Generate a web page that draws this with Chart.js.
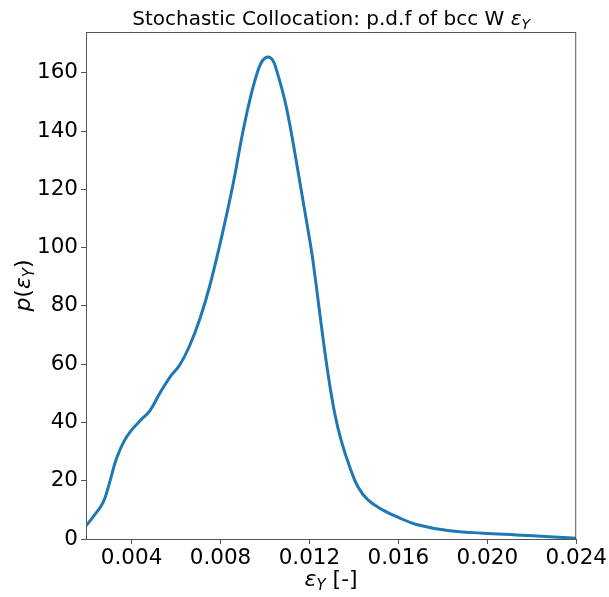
<!DOCTYPE html>
<html>
<head>
<meta charset="utf-8">
<script src="https://cdn.jsdelivr.net/npm/chart.js@4/dist/chart.umd.min.js"></script>
<style>
  html, body { margin: 0; padding: 0; background: #ffffff; }
  #wrap { width: 609px; height: 597px; }
</style>
</head>
<body>
<div id="wrap"><canvas id="c" width="609" height="597"></canvas></div>
<script>
// Yield strain samples (x) and estimated probability density (y)
const strainValues = [
  0.00195, 0.00227, 0.00272, 0.00302, 0.00333, 0.00378, 0.00437, 0.00482,
  0.00527, 0.00572, 0.00617, 0.00662, 0.00707, 0.00752, 0.00812, 0.00857,
  0.00902, 0.00939, 0.00969, 0.00990, 0.01014, 0.01035, 0.01052, 0.01089,
  0.01119, 0.01149, 0.01179, 0.01209, 0.01228, 0.01254, 0.01284, 0.01314,
  0.01344, 0.01381, 0.01418, 0.01463, 0.01531, 0.01600, 0.01681, 0.01831,
  0.01980, 0.02130, 0.02280, 0.02400
];
const densityValues = [
  4.5, 7.6, 12.6, 19.6, 27.8, 35.1, 40.5, 44.0,
  50.0, 55.5, 59.8, 66.5, 75.5, 87.0, 106.0, 122.0,
  140.3, 152.9, 160.9, 164.3, 165.4, 164.3, 160.9, 150.6,
  139.2, 126.0, 112.6, 99.0, 88.5, 73.0, 56.5, 43.0,
  33.5, 24.8, 17.9, 13.4, 9.9, 7.4, 5.0, 2.8,
  2.0, 1.4, 0.8, 0.3
];
const xTickValues = [0.004, 0.008, 0.012, 0.016, 0.020, 0.024];
const yTickValues = [0, 20, 40, 60, 80, 100, 120, 140, 160];

const FONT = "'DejaVu Sans', sans-serif";
const points = strainValues.map((x, i) => ({ x: x, y: densityValues[i] }));

// Draws the frame, title and axis titles (with subscripts)
const decorations = {
  id: 'decorations',
  afterDraw(chart) {
    const ctx = chart.ctx;
    const a = chart.chartArea;
    ctx.save();
    ctx.strokeStyle = '#555555';
    ctx.lineWidth = 1;
    ctx.strokeRect(a.left + 0.5, a.top + 0.5, a.right - a.left - 1, a.bottom - a.top);

    ctx.fillStyle = '#000000';
    ctx.textBaseline = 'alphabetic';

    // pieces: [text, font, dy]
    function drawRun(pieces, cx, y) {
      let w = 0;
      pieces.forEach(p => { ctx.font = p[1]; w += ctx.measureText(p[0]).width; });
      let x = cx - w / 2;
      ctx.textAlign = 'left';
      pieces.forEach(p => {
        ctx.font = p[1];
        ctx.fillText(p[0], x, y + (p[2] || 0));
        x += ctx.measureText(p[0]).width;
      });
    }

    const cx = (a.left + a.right) / 2;
    drawRun([
      ['Stochastic Collocation: p.d.f of bcc W ', '20px ' + FONT, 0],
      ['ε', 'italic 20px ' + FONT, 0],
      ['Y', 'italic 14px ' + FONT, 4]
    ], cx, 25);

    drawRun([
      ['ε', 'italic 22px ' + FONT, 0],
      ['Y', 'italic 15px ' + FONT, 4],
      [' [-]', '22px ' + FONT, 0]
    ], cx, 586);

    ctx.save();
    ctx.translate(30, (a.top + a.bottom) / 2);
    ctx.rotate(-Math.PI / 2);
    drawRun([
      ['p', 'italic 22px ' + FONT, 0],
      ['(', '22px ' + FONT, 0],
      ['ε', 'italic 22px ' + FONT, 0],
      ['Y', 'italic 15px ' + FONT, 4],
      [')', '22px ' + FONT, 0]
    ], 0, 0);
    ctx.restore();
    ctx.restore();
  }
};

new Chart(document.getElementById('c'), {
  type: 'scatter',
  data: {
    datasets: [{
      data: points,
      showLine: true,
      borderColor: '#1f77b4',
      borderWidth: 3,
      pointRadius: 0,
      pointHoverRadius: 0,
      fill: false,
      tension: 0.4
    }]
  },
  options: {
    responsive: false,
    animation: false,
    events: [],
    layout: { padding: { left: 0, right: 32, top: 32, bottom: 0 } },
    plugins: { legend: { display: false }, tooltip: { enabled: false }, title: { display: false } },
    scales: {
      x: {
        type: 'linear',
        min: 0.00195,
        max: 0.024,
        afterBuildTicks(scale) { scale.ticks = xTickValues.map(v => ({ value: v })); },
        afterFit(scale) { scale.height = 58; },
        grid: { drawOnChartArea: false, drawTicks: true, tickLength: 5, tickColor: '#555555', color: '#555555' },
        border: { display: false },
        ticks: {
          color: '#000000',
          padding: 2,
          maxRotation: 0,
          autoSkip: false,
          font: { family: FONT, size: 21.5 },
          callback: v => v.toFixed(3)
        }
      },
      y: {
        type: 'linear',
        min: 0,
        max: 174,
        afterBuildTicks(scale) { scale.ticks = yTickValues.map(v => ({ value: v })); },
        afterFit(scale) { scale.width = 86; },
        grid: { drawOnChartArea: false, drawTicks: true, tickLength: 5, tickColor: '#555555', color: '#555555' },
        border: { display: false },
        ticks: {
          color: '#000000',
          padding: 3,
          autoSkip: false,
          font: { family: FONT, size: 21.5 },
          callback: v => String(v)
        }
      }
    }
  },
  plugins: [decorations]
});
</script>
</body>
</html>
